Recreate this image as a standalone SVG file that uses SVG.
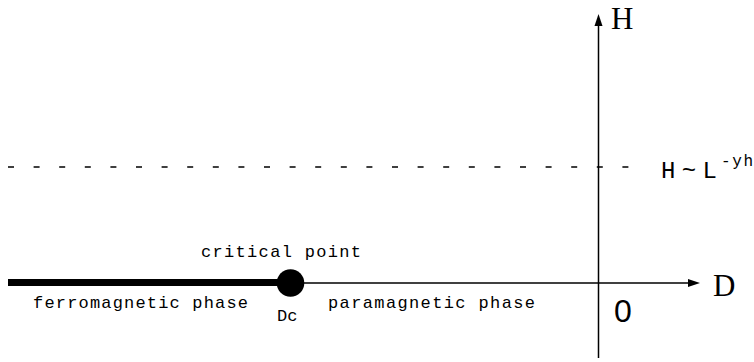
<svg xmlns="http://www.w3.org/2000/svg" width="754" height="362" viewBox="0 0 754 362">
<style>
.ax{stroke:#000;stroke-width:1.5;fill:none}
.lbl{font-family:"Liberation Mono","Courier New",monospace;fill:#000}
.big{font-family:"Liberation Serif","Times New Roman",serif;font-size:31px;fill:#000}
</style>
<rect width="754" height="362" fill="#fff"/>
<g id="connectors">
<line class="ax" x1="8" y1="167" x2="630" y2="167" stroke-dasharray="6 19.6"/>
<line class="ax" x1="8" y1="283" x2="689" y2="283"/>
<polygon points="688,279 700,283 688,287" fill="#000"/>
<line class="ax" x1="598.5" y1="358" x2="598.5" y2="25"/>
<polygon points="594.5,26 598.5,14 602.5,26" fill="#000"/>
<line x1="8" y1="282.5" x2="290" y2="282.5" stroke="#000" stroke-width="7"/>
</g>
<g id="critical-point">
<circle cx="290.5" cy="283" r="13.8" fill="#000"/>
<text class="lbl" x="201" y="257" font-size="17" textLength="160">critical point</text>
<text class="lbl" x="277" y="321" font-size="17">Dc</text>
</g>
<g id="ferro">
<text class="lbl" x="33" y="308" font-size="17" textLength="215">ferromagnetic phase</text>
</g>
<g id="para">
<text class="lbl" x="328" y="308" font-size="17" textLength="207">paramagnetic phase</text>
</g>
<g id="axis-labels">
<text class="big" x="611" y="29">H</text>
<text class="big" x="713" y="296">D</text>
<text x="614" y="322" font-family="Liberation Sans, Arial, sans-serif" font-size="32" fill="#000">0</text>
<text class="lbl" x="661" y="178" font-size="24" textLength="56" lengthAdjust="spacing">H~L</text>
<text class="lbl" x="721" y="166" font-size="16" textLength="32" lengthAdjust="spacing">-yh</text>
</g>
</svg>
